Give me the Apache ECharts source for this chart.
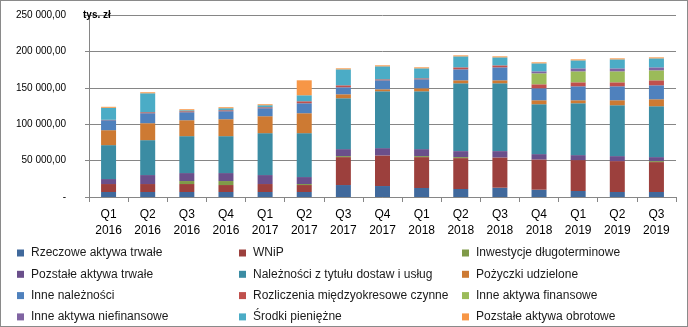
<!DOCTYPE html>
<html>
<head>
<meta charset="utf-8">
<script src="https://cdn.jsdelivr.net/npm/echarts@6/dist/echarts.min.js"></script>
<style>
html,body{margin:0;padding:0;background:#fff;}
#c{width:688px;height:327px;box-sizing:border-box;border:1px solid #8a8a8a;}
</style>
</head>
<body>
<div id="c"></div>
<script>
const categories = ['Q1\n2016','Q2\n2016','Q3\n2016','Q4\n2016','Q1\n2017','Q2\n2017','Q3\n2017','Q4\n2017','Q1\n2018','Q2\n2018','Q3\n2018','Q4\n2018','Q1\n2019','Q2\n2019','Q3\n2019'];
const yTicks = [0, 50000, 100000, 150000, 200000, 250000];
const seriesNames = ['Rzeczowe aktywa trwałe','WNiP','Inwestycje długoterminowe','Pozstałe aktywa trwałe','Należności z tytułu dostaw i usług','Pożyczki udzielone','Inne należności','Rozliczenia międzyokresowe czynne','Inne aktywa finansowe','Inne aktywa niefinansowe','Środki pieniężne','Pozstałe aktywa obrotowe'];
const rzeczowe      = [6850,6850,6850,6850,6850,6850,16440,15070,12330,10960,12790,10050,8220,6850,6850];
const wnip          = [10960,10960,10960,9590,10960,9590,38360,42020,42470,42470,41560,41560,42470,42470,41100];
const inwestycje    = [0,0,4110,5480,0,1370,1370,0,1370,1370,0,0,0,0,1370];
const pozostaleTrw  = [6850,12330,10960,10960,12330,9590,9590,10050,9590,8220,8680,7310,6850,6850,5480];
const naleznosci    = [46580,47950,50690,50690,57540,60280,69870,78100,79470,93170,93170,68500,71240,69870,69870];
const pozyczki      = [20550,23290,21920,23290,23290,27400,5480,2740,4110,4110,4110,5480,4110,6850,9590];
const inneNalez     = [13700,13700,10960,10960,10960,13700,9590,12330,12330,15070,17810,16440,19180,19180,19180];
const rozliczenia   = [600,1370,1370,1370,1370,2740,2740,1370,1370,2740,2740,5480,5480,5480,6850];
const inneFin       = [0,0,0,0,0,0,0,0,0,0,0,15070,15070,15070,13700];
const inneNiefin    = [0,0,0,0,0,0,0,0,0,0,0,2740,4110,4110,4110];
const srodki        = [16440,26030,1370,2740,2740,8220,21920,17810,13700,15070,10960,10960,10960,12330,12330];
const pozostaleObr  = [1370,1370,1370,1370,1370,20550,1370,1370,1370,1370,1370,1370,1370,1370,1370];
const seriesData = [rzeczowe,wnip,inwestycje,pozostaleTrw,naleznosci,pozyczki,inneNalez,rozliczenia,inneFin,inneNiefin,srodki,pozostaleObr];
const colors = ['#40699C','#9C403D','#7F9A48','#6A4F8B','#3B8CA3','#CD7A33','#4F81BD','#C0504D','#9BBB59','#8064A2','#4BACC6','#F79646'];

const font = '"Liberation Sans", Arial, sans-serif';
function fmt(v){
  if (v === 0) return '-';
  const s = String(Math.round(v));
  return s.replace(/\B(?=(\d{3})+(?!\d))/g, '\u00a0') + ',00';
}

const chart = echarts.init(document.getElementById('c'), null, {renderer:'canvas'});
const legendCol = (names, left) => ({
  orient: 'vertical', left: left, top: 245, padding: 0, height: 82,
  data: names, icon: 'rect', itemWidth: 7, itemHeight: 7, itemGap: 7.3,
  selectedMode: false,
  textStyle: {fontFamily: font, fontSize: 12, color: '#1a1a1a', lineHeight: 14, padding: [0,0,0,2]}
});
chart.setOption({
  animation: false,
  color: colors,
  title: {text: 'tys. zł', left: 77, top: 4, textStyle: {fontFamily: font, fontSize: 10, fontWeight: 'bold', color: '#000'}},
  grid: {left: 88, right: 11, top: 14, bottom: 129, containLabel: false},
  legend: [
    legendCol([seriesNames[0], seriesNames[3], seriesNames[6], seriesNames[9]], 16),
    legendCol([seriesNames[1], seriesNames[4], seriesNames[7], seriesNames[10]], 238),
    legendCol([seriesNames[2], seriesNames[5], seriesNames[8], seriesNames[11]], 461)
  ],
  xAxis: {
    type: 'category', data: categories,
    axisLine: {lineStyle: {color: '#868686', width: 1}},
    axisTick: {show: true, length: 5, lineStyle: {color: '#868686'}},
    axisLabel: {fontFamily: font, fontSize: 12, color: '#000', lineHeight: 16, margin: 10}
  },
  yAxis: {
    type: 'value', min: yTicks[0], max: yTicks[yTicks.length-1], interval: yTicks[1]-yTicks[0],
    axisLine: {show: true, lineStyle: {color: '#868686'}},
    axisTick: {show: true, length: 4, lineStyle: {color: '#868686'}},
    splitLine: {lineStyle: {color: '#868686', width: 1}},
    axisLabel: {fontFamily: font, fontSize: 10, color: '#000', margin: 23, formatter: fmt}
  },
  series: seriesData.map((d, i) => ({
    name: seriesNames[i], type: 'bar', stack: 'total', data: d, barWidth: 15
  }))
});
</script>
</body>
</html>
